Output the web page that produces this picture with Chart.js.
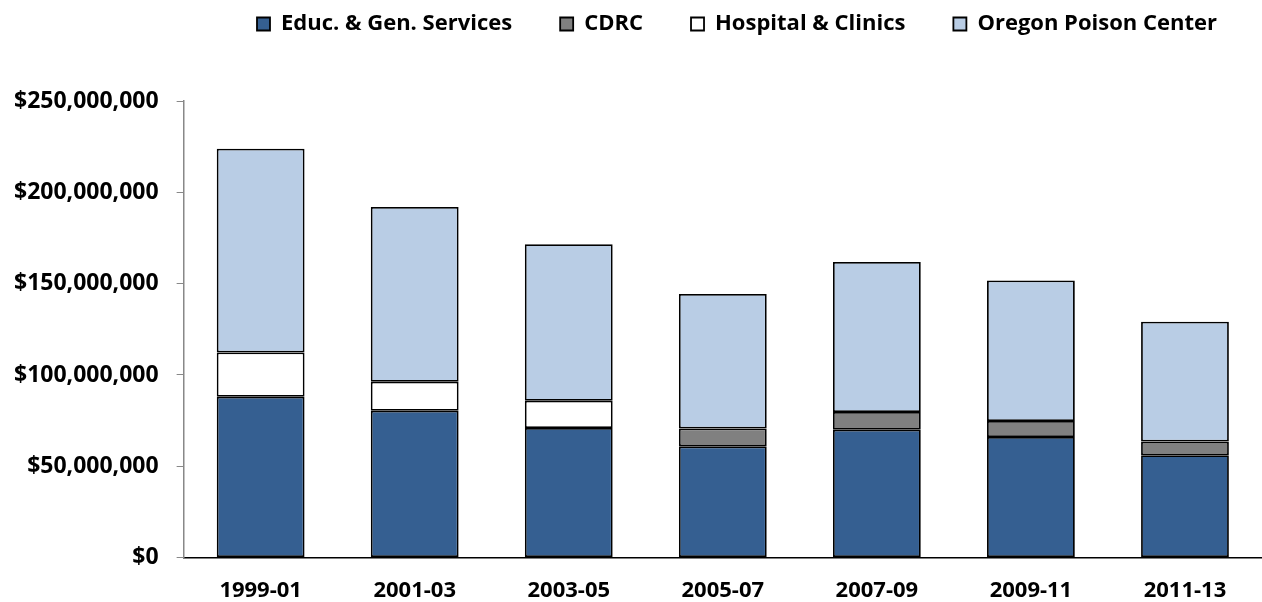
<!DOCTYPE html>
<html>
<head>
<meta charset="utf-8">
<script src="https://cdn.jsdelivr.net/npm/chart.js@4"></script>
<style>
  html, body { margin: 0; padding: 0; background: #fff; }
  #wrap { width: 1262px; height: 602px; }
</style>
</head>
<body>
<div id="wrap"><canvas id="budgetChart"></canvas></div>
<script>
const biennia = ['1999-01', '2001-03', '2003-05', '2005-07', '2007-09', '2009-11', '2011-13'];
const educGen = [88.1e6, 80.4e6, 71.0e6, 60.9e6, 70.0e6, 66.0e6, 56.0e6];
const cdrc = [null, null, null, 9.8e6, 9.7e6, 8.8e6, 7.5e6];
const hospital = [24.2e6, 15.9e6, 14.9e6, null, null, null, null];
const poisonCenter = [111.6e6, 95.7e6, 85.7e6, 73.6e6, 82.2e6, 76.9e6, 65.6e6];
const yTicks = [0, 50e6, 100e6, 150e6, 200e6, 250e6];

const bigFont = { family: 'Open Sans', size: 22, weight: 'bold' };
const axisFont = { family: 'Open Sans', size: 23, weight: 'bold' };

function series(label, data, color) {
    return {
        label: label,
        data: data,
        backgroundColor: color,
        borderColor: '#000000',
        borderWidth: 1.8,
        borderSkipped: false,
        categoryPercentage: 1,
        barPercentage: 0.57
    };
}

// extra room under the legend row, and the row sits right of centre
const legendGap = {
    id: 'legendGap',
    beforeUpdate(chart) {
        const legend = chart.legend;
        if (!legend || legend._gapPatched) return;
        const fit = legend.fit;
        legend.fit = function () {
            fit.call(this);
            this.height += 56;
        };
        legend._gapPatched = true;
    },
    afterLayout(chart) {
        chart.legend.left += 108;
        chart.legend.right += 108;
    }
};

const ctx = document.getElementById('budgetChart').getContext('2d');
new Chart(ctx, {
    type: 'bar',
    data: {
        labels: biennia,
        datasets: [
            series('Educ. & Gen. Services', educGen, '#355f91'),
            series('CDRC', cdrc, '#808080'),
            series('Hospital & Clinics', hospital, '#ffffff'),
            series('Oregon Poison Center', poisonCenter, '#b9cde5')
        ]
    },
    options: {
        responsive: true,
        maintainAspectRatio: false,
        animation: false,
        layout: { padding: { left: -4, right: 0, top: -35, bottom: -14 } },
        plugins: {
            legend: {
                position: 'top',
                labels: {
                    color: '#000000',
                    font: bigFont,
                    boxWidth: 13,
                    boxHeight: 13,
                    padding: 48,
                    useBorderRadius: false
                }
            },
            tooltip: { enabled: false }
        },
        scales: {
            x: {
                stacked: true,
                grid: { display: false },
                border: { color: '#000000', width: 1.5 },
                ticks: { color: '#000000', font: bigFont, padding: 12 }
            },
            y: {
                stacked: true,
                min: 0,
                max: 250e6,
                afterBuildTicks: axis => {
                    axis.ticks = yTicks.map(v => ({ value: v }));
                },
                border: { color: '#888888', width: 1.5 },
                grid: {
                    drawOnChartArea: false,
                    color: '#888888',
                    tickLength: 7
                },
                ticks: {
                    color: '#000000',
                    font: axisFont,
                    padding: 18,
                    callback: v => '$' + v.toLocaleString('en-US')
                }
            }
        }
    },
    plugins: [legendGap]
});
</script>
</body>
</html>
